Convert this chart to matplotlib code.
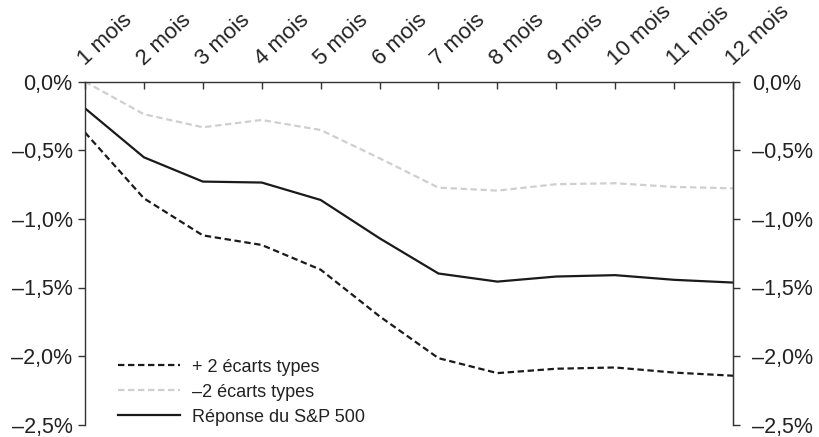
import matplotlib
matplotlib.use("Agg")
import matplotlib.pyplot as plt

plt.rcParams["font.family"] = ["Liberation Sans", "DejaVu Sans"]
plt.rcParams["lines.scale_dashes"] = False

# Données (en %)
mois = ["1 mois", "2 mois", "3 mois", "4 mois", "5 mois", "6 mois",
        "7 mois", "8 mois", "9 mois", "10 mois", "11 mois", "12 mois"]
plus_2_ecarts = [-0.37, -0.85, -1.12, -1.19, -1.37, -1.71,
                 -2.015, -2.124, -2.092, -2.083, -2.12, -2.143]
moins_2_ecarts = [0.0, -0.237, -0.332, -0.279, -0.352, -0.558,
                  -0.772, -0.794, -0.747, -0.74, -0.767, -0.777]
reponse_sp500 = [-0.194, -0.551, -0.728, -0.735, -0.862, -1.141,
                 -1.398, -1.457, -1.42, -1.41, -1.444, -1.464]
y_ticks = [0.0, -0.5, -1.0, -1.5, -2.0, -2.5]
y_labels = ["0,0%", "\u20130,5%", "\u20131,0%", "\u20131,5%", "\u20132,0%", "\u20132,5%"]

fig = plt.figure(figsize=(8.19, 4.37), dpi=100)
ax = fig.add_axes([85 / 819, 1 - 424.7 / 437, 648 / 819, (424.7 - 81.7) / 437])

x = list(range(1, len(mois) + 1))
ax.plot(x, plus_2_ecarts, color="#1a1a1a", lw=1.6, dashes=(4.6, 2.6),
        label="+ 2 écarts types")
ax.plot(x, moins_2_ecarts, color="#cfcfcf", lw=1.6, dashes=(4.6, 2.6),
        label="\u20132 écarts types")
ax.plot(x, reponse_sp500, color="#1a1a1a", lw=1.6, label="Réponse du S&P 500")

ax.set_xlim(1, 12)
ax.set_ylim(-2.5, 0)

spine_col = "#333333"
for s in ["left", "right", "top"]:
    ax.spines[s].set_color(spine_col)
    ax.spines[s].set_linewidth(1.0)
ax.spines["bottom"].set_visible(False)

ax.xaxis.set_ticks_position("top")
ax.set_xticks(x)
ax.set_xticklabels(mois, rotation=43, ha="left", va="baseline",
                   rotation_mode="anchor")
ax.tick_params(axis="x", direction="in", length=5, width=1, color=spine_col,
               pad=11, labelsize=16, labelcolor="#222222")

ax.set_yticks(y_ticks)
ax.set_yticklabels(y_labels)
ax.tick_params(axis="y", direction="out", length=5, width=1, color=spine_col,
               pad=4, labelsize=15.5, labelcolor="#222222")

ax2 = ax.twinx()
ax2.set_ylim(-2.5, 0)
ax2.set_yticks(y_ticks)
ax2.set_yticklabels(y_labels)
ax2.tick_params(axis="y", direction="out", length=5, width=1, color=spine_col,
                pad=9, labelsize=15.5, labelcolor="#222222")
for s in ["left", "top", "bottom"]:
    ax2.spines[s].set_visible(False)
ax2.spines["right"].set_color(spine_col)

leg = ax.legend(loc="lower left", bbox_to_anchor=(0.032, -0.04), frameon=False,
                fontsize=13, handlelength=3.4, handletextpad=0.67,
                labelspacing=0.45, borderpad=0.2)
for t in leg.get_texts():
    t.set_color("#222222")

fig.savefig("out.png", dpi=100)
